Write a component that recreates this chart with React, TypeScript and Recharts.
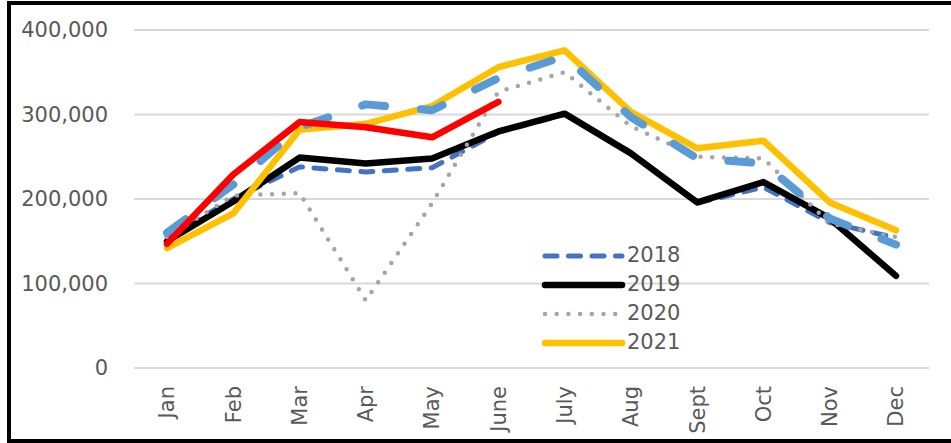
import { LineChart, Line, CartesianGrid, XAxis, YAxis, Legend } from "recharts";

const months = ["Jan", "Feb", "Mar", "Apr", "May", "June", "July", "Aug", "Sept", "Oct", "Nov", "Dec"];
const s2018 = [155000, 200000, 238000, 232000, 237000, 279000, 300000, 255000, 195000, 214000, 172000, 154000];
const s2019 = [150000, 197000, 249000, 242000, 248000, 280000, 301000, 254000, 196000, 220000, 177000, 109000];
const s2020 = [155000, 204000, 207000, 80000, 195000, 327000, 350000, 286000, 250000, 248000, 171000, 155000];
const s2021 = [142000, 183000, 282000, 289000, 310000, 356000, 376000, 303000, 260000, 269000, 196000, 163000];
// light blue long-dash series (not in legend)
const sExtra = [160000, 217000, 285000, 312000, 305000, 343000, 369000, 297000, 248000, 242000, 177000, 146000];
// red partial-year series (not in legend)
const sRed = [147000, 229000, 291000, 285000, 273000, 315000];
const yTicks = [0, 100000, 200000, 300000, 400000];

const data = months.map((m, i) => ({
  month: m,
  s2018: s2018[i],
  s2019: s2019[i],
  s2020: s2020[i],
  s2021: s2021[i],
  extra: sExtra[i],
  red: i < sRed.length ? sRed[i] : null,
}));

const FONT = "'DejaVu Sans', sans-serif";
const TEXT = "#595959";

const legendItems = [
  { name: "2018", color: "#4472C4", width: 5, dash: "12 11.5" },
  { name: "2019", color: "#000000", width: 6.5, dash: undefined },
  { name: "2020", color: "#A5A5A5", width: 4.5, dash: "0 11.7" },
  { name: "2021", color: "#FFC000", width: 6.5, dash: undefined },
];

const renderLegend = () => (
  <div style={{ fontFamily: FONT, fontSize: 21, color: TEXT }}>
    {legendItems.map((it) => (
      <div key={it.name} style={{ display: "flex", alignItems: "center", height: 29 }}>
        <svg width={86} height={20} style={{ display: "block" }}>
          <line
            x1={4}
            y1={10}
            x2={81}
            y2={10}
            stroke={it.color}
            strokeWidth={it.width}
            strokeDasharray={it.dash}
            strokeLinecap="round"
          />
        </svg>
        <span style={{ lineHeight: "29px" }}>{it.name}</span>
      </div>
    ))}
  </div>
);

const MonthTick = ({ x, y, payload }: any) => (
  <text
    transform={`translate(${x},${y + 18}) rotate(-90)`}
    textAnchor="end"
    dy="0.35em"
    fontFamily={FONT}
    fontSize={21}
    fill={TEXT}
  >
    {payload.value}
  </text>
);

export default function App() {
  const NO_ANIM = { isAnimationActive: false } as const;
  return (
    <div style={{ position: "fixed", left: 0, top: 0, width: 951, height: 443, background: "#fff", overflow: "hidden" }}>
      <LineChart width={951} height={443} data={data} margin={{ top: 30, right: 22, left: 34, bottom: 15 }}>
        <CartesianGrid vertical={false} stroke="#d9d9d9" strokeWidth={2} />
        <XAxis
          dataKey="month"
          padding={{ left: 33, right: 33 }}
          height={60}
          axisLine={{ stroke: "#d9d9d9", strokeWidth: 2 }}
          tickLine={false}
          tickSize={0}
          tickMargin={0}
          interval={0}
          tick={<MonthTick />}
        />
        <YAxis
          width={100}
          domain={[0, 400000]}
          ticks={yTicks}
          axisLine={false}
          tickLine={false}
          tickSize={0}
          tickMargin={26}
          tickFormatter={(v: number) => v.toLocaleString("en-US")}
          tick={{ fontFamily: FONT, fontSize: 21, fill: TEXT }}
        />
        <Legend
          layout="vertical"
          align="center"
          verticalAlign="middle"
          wrapperStyle={{ left: 541, top: 241, width: 170 }}
          content={renderLegend}
        />
        <Line {...NO_ANIM} dataKey="s2018" name="2018" stroke="#4472C4" strokeWidth={5} strokeDasharray="12 11.5" strokeLinecap="round" strokeLinejoin="round" dot={false} activeDot={false} />
        <Line {...NO_ANIM} dataKey="s2019" name="2019" stroke="#000000" strokeWidth={6.5} strokeLinecap="round" strokeLinejoin="round" dot={false} activeDot={false} />
        <Line {...NO_ANIM} dataKey="s2020" name="2020" stroke="#A5A5A5" strokeWidth={4.5} strokeDasharray="0 11.7" strokeLinecap="round" strokeLinejoin="round" dot={false} activeDot={false} />
        <Line {...NO_ANIM} dataKey="s2021" name="2021" stroke="#FFC000" strokeWidth={6.5} strokeLinecap="round" strokeLinejoin="round" dot={false} activeDot={false} />
        <Line {...NO_ANIM} dataKey="extra" name="extra" stroke="#5B9BD5" strokeWidth={8} strokeDasharray="23 36" strokeLinecap="round" strokeLinejoin="round" dot={false} activeDot={false} legendType="none" />
        <Line {...NO_ANIM} dataKey="red" name="red" stroke="#FF0000" strokeWidth={6.5} strokeLinecap="round" strokeLinejoin="round" dot={false} activeDot={false} legendType="none" />
      </LineChart>
      <div
        style={{
          position: "absolute",
          left: 7,
          top: 1,
          width: 960,
          height: 442,
          border: "4px solid #000",
          boxSizing: "border-box",
          pointerEvents: "none",
        }}
      />
    </div>
  );
}
